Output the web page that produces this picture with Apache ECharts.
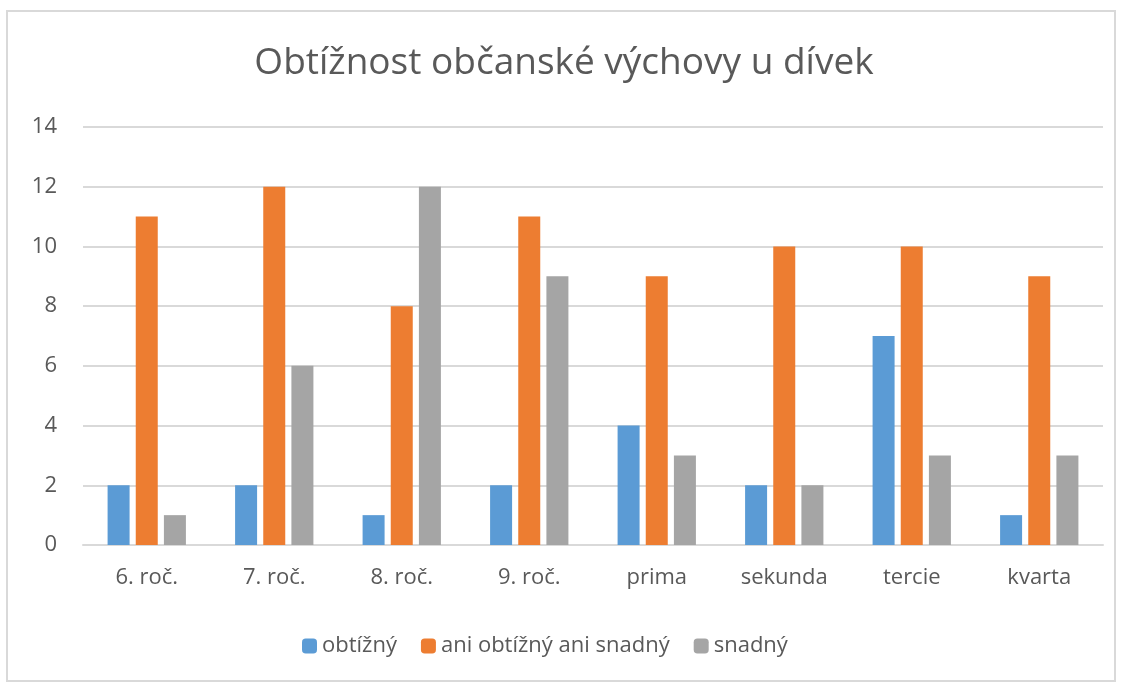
<!DOCTYPE html>
<html>
<head>
<meta charset="utf-8">
<script src="https://cdn.jsdelivr.net/npm/echarts@6/dist/echarts.min.js"></script>
<style>
  html, body { margin: 0; padding: 0; background: #fff; }
  #chart { width: 1128px; height: 684px; }
  #frame { position: absolute; left: 6px; top: 10px; width: 1110px; height: 672px; border: 2px solid #d9d9d9; box-sizing: border-box; pointer-events: none; }
</style>
</head>
<body>
<div id="chart"></div>
<div id="frame"></div>
<script>
// kategorie a hodnoty
const categories = ['6. roč.', '7. roč.', '8. roč.', '9. roč.', 'prima', 'sekunda', 'tercie', 'kvarta'];
const obtizny = [2, 2, 1, 2, 4, 2, 7, 1];
const ani = [11, 12, 8, 11, 9, 10, 10, 9];
const snadny = [1, 6, 12, 9, 3, 2, 3, 3];
const yTicks = { min: 0, max: 14, interval: 2 };

var myChart = echarts.init(document.getElementById('chart'));
const font = 'Open Sans, Noto Sans, sans-serif';
var option = {
    animation: false,
    textStyle: { fontFamily: font },
    title: {
        text: 'Obtížnost občanské výchovy u dívek',
        left: 'center',
        top: 40,
        textStyle: { fontSize: 37, fontWeight: 'normal', color: '#595959', fontFamily: font },
    },
    legend: {
        bottom: 22,
        left: 297,
        itemWidth: 15,
        itemHeight: 15,
        itemGap: 24,
        textStyle: { fontSize: 22, color: '#595959', fontFamily: font },
        data: ['obtížný', 'ani obtížný ani snadný', 'snadný'],
    },
    grid: { left: 83, right: 25, top: 127, bottom: 139 },
    xAxis: {
        type: 'category',
        data: categories,
        axisTick: { show: false },
        axisLine: { lineStyle: { color: '#d9d9d9', width: 2 } },
        axisLabel: { fontSize: 22, color: '#595959', margin: 22 },
    },
    yAxis: {
        type: 'value',
        min: yTicks.min,
        max: yTicks.max,
        interval: yTicks.interval,
        axisLine: { show: false },
        axisTick: { show: false },
        splitLine: { lineStyle: { color: '#d9d9d9', width: 2 } },
        axisLabel: { fontSize: 22, color: '#595959', margin: 26 },
    },
    series: [
        { name: 'obtížný', type: 'bar', data: obtizny, barWidth: 22, barGap: '28%',
          itemStyle: { color: '#5b9bd5' } },
        { name: 'ani obtížný ani snadný', type: 'bar', data: ani, barWidth: 22, barGap: '28%',
          itemStyle: { color: '#ed7d31' } },
        { name: 'snadný', type: 'bar', data: snadny, barWidth: 22, barGap: '28%',
          itemStyle: { color: '#a5a5a5' } },
    ],
};
myChart.setOption(option);
</script>
</body>
</html>
